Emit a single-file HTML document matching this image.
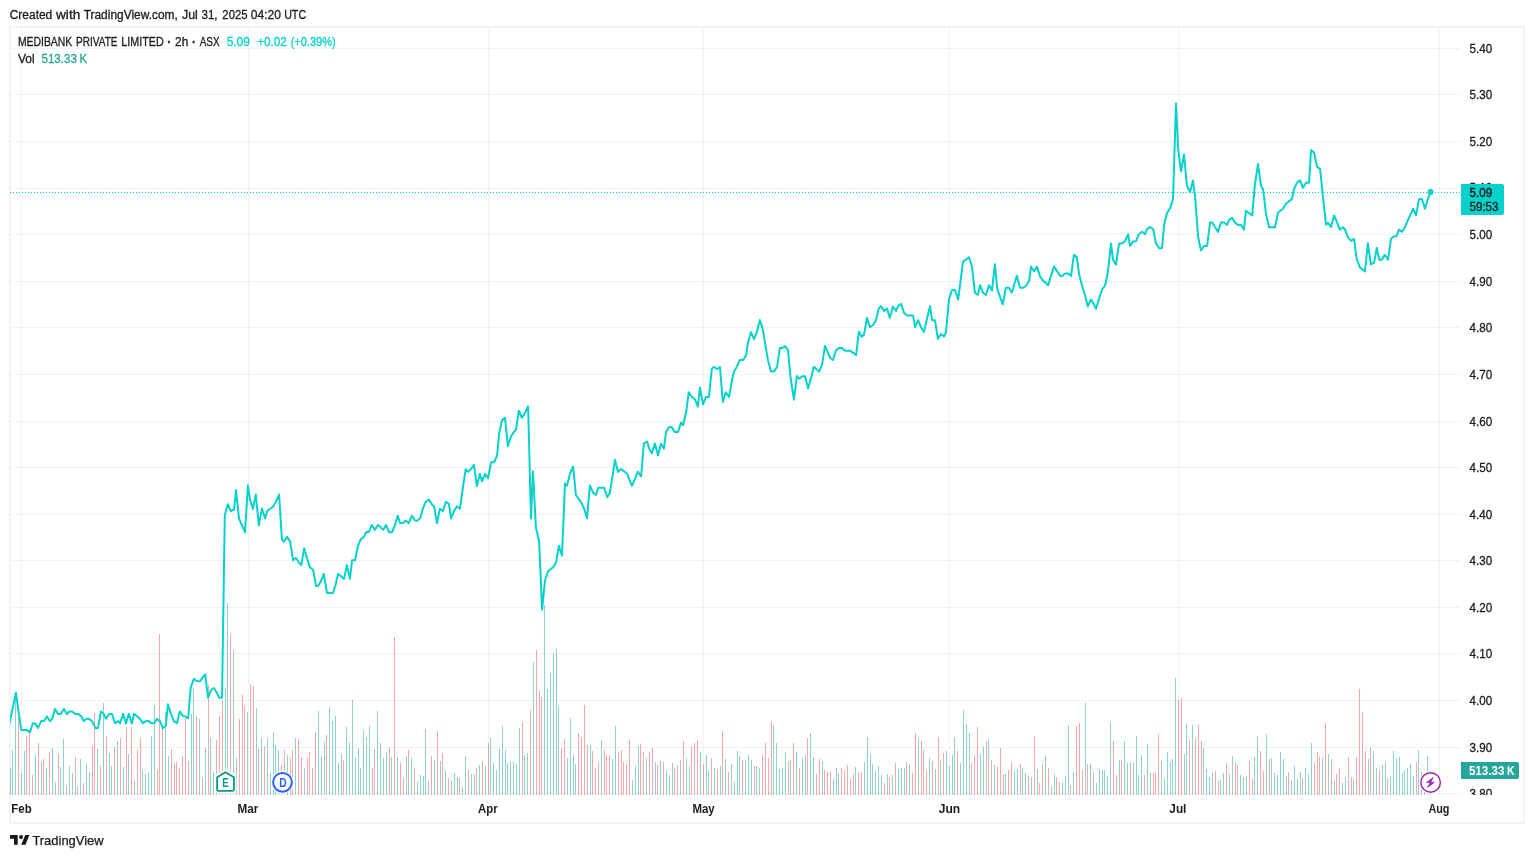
<!DOCTYPE html>
<html lang="en"><head><meta charset="utf-8"><title>MEDIBANK PRIVATE LIMITED</title>
<style>
html,body{margin:0;padding:0;background:#fff;}
body{width:1534px;height:858px;overflow:hidden;}
svg{display:block;font-family:"Liberation Sans", sans-serif;will-change:transform;}
text{font-family:"Liberation Sans", sans-serif;}
</style></head><body>
<svg width="1534" height="858" viewBox="0 0 1534 858">
<rect width="1534" height="858" fill="#fff"/>

<g stroke="#000" stroke-opacity="0.052" stroke-width="1" shape-rendering="crispEdges">
<line x1="11" y1="793.5" x2="1460" y2="793.5"/>
<line x1="11" y1="747.5" x2="1460" y2="747.5"/>
<line x1="11" y1="700.5" x2="1460" y2="700.5"/>
<line x1="11" y1="653.5" x2="1460" y2="653.5"/>
<line x1="11" y1="607.5" x2="1460" y2="607.5"/>
<line x1="11" y1="560.5" x2="1460" y2="560.5"/>
<line x1="11" y1="514.5" x2="1460" y2="514.5"/>
<line x1="11" y1="467.5" x2="1460" y2="467.5"/>
<line x1="11" y1="421.5" x2="1460" y2="421.5"/>
<line x1="11" y1="374.5" x2="1460" y2="374.5"/>
<line x1="11" y1="327.5" x2="1460" y2="327.5"/>
<line x1="11" y1="281.5" x2="1460" y2="281.5"/>
<line x1="11" y1="234.5" x2="1460" y2="234.5"/>
<line x1="11" y1="188.5" x2="1460" y2="188.5"/>
<line x1="11" y1="141.5" x2="1460" y2="141.5"/>
<line x1="11" y1="94.5" x2="1460" y2="94.5"/>
<line x1="11" y1="48.5" x2="1460" y2="48.5"/>
<line x1="21.5" y1="28" x2="21.5" y2="795"/>
<line x1="248.5" y1="28" x2="248.5" y2="795"/>
<line x1="488.5" y1="28" x2="488.5" y2="795"/>
<line x1="703.5" y1="28" x2="703.5" y2="795"/>
<line x1="949.5" y1="28" x2="949.5" y2="795"/>
<line x1="1178.5" y1="28" x2="1178.5" y2="795"/>
<line x1="1439.5" y1="28" x2="1439.5" y2="795"/>
</g>
<rect x="10" y="27" width="1514" height="796" fill="none" stroke="#f3f3f3" stroke-width="2" shape-rendering="crispEdges"/>
<g shape-rendering="crispEdges">
<path fill="#26a69a" fill-opacity="0.5" d="M10 768h1V795h-1zM12 750h1V795h-1zM15 699h1V795h-1zM21 773h1V795h-1zM24 751h1V795h-1zM35 755h1V795h-1zM41 762h1V795h-1zM46 768h1V795h-1zM52 748h1V795h-1zM55 782h1V795h-1zM60 767h1V795h-1zM63 739h1V795h-1zM69 766h1V795h-1zM72 773h1V795h-1zM77 786h1V795h-1zM80 759h1V795h-1zM86 763h1V795h-1zM89 772h1V795h-1zM97 749h1V795h-1zM103 703h1V795h-1zM109 753h1V795h-1zM111 766h1V795h-1zM117 741h1V795h-1zM123 767h1V795h-1zM128 754h1V795h-1zM134 781h1V795h-1zM142 770h1V795h-1zM145 774h1V795h-1zM148 772h1V795h-1zM151 736h1V795h-1zM154 705h1V795h-1zM165 712h1V795h-1zM168 756h1V795h-1zM191 714h1V795h-1zM193 688h1V795h-1zM199 719h1V795h-1zM205 748h1V795h-1zM210 737h1V795h-1zM213 772h1V795h-1zM225 688h1V795h-1zM227 603h1V795h-1zM233 650h1V795h-1zM236 758h1V795h-1zM247 712h1V795h-1zM256 708h1V795h-1zM261 738h1V795h-1zM267 738h1V795h-1zM270 773h1V795h-1zM273 732h1V795h-1zM275 745h1V795h-1zM278 750h1V795h-1zM287 755h1V795h-1zM295 738h1V795h-1zM304 768h1V795h-1zM318 711h1V795h-1zM321 757h1V795h-1zM324 742h1V795h-1zM329 707h1V795h-1zM332 721h1V795h-1zM335 716h1V795h-1zM338 763h1V795h-1zM341 754h1V795h-1zM346 727h1V795h-1zM349 743h1V795h-1zM352 700h1V795h-1zM355 757h1V795h-1zM358 748h1V795h-1zM360 768h1V795h-1zM363 730h1V795h-1zM366 737h1V795h-1zM369 726h1V795h-1zM377 711h1V795h-1zM380 743h1V795h-1zM383 758h1V795h-1zM386 752h1V795h-1zM391 757h1V795h-1zM397 757h1V795h-1zM406 756h1V795h-1zM411 758h1V795h-1zM417 782h1V795h-1zM420 775h1V795h-1zM423 776h1V795h-1zM425 729h1V795h-1zM428 781h1V795h-1zM434 760h1V795h-1zM440 761h1V795h-1zM445 771h1V795h-1zM451 781h1V795h-1zM454 773h1V795h-1zM457 777h1V795h-1zM462 787h1V795h-1zM465 756h1V795h-1zM471 774h1V795h-1zM474 774h1V795h-1zM479 765h1V795h-1zM485 766h1V795h-1zM490 738h1V795h-1zM493 763h1V795h-1zM496 770h1V795h-1zM499 749h1V795h-1zM502 726h1V795h-1zM505 750h1V795h-1zM507 763h1V795h-1zM510 761h1V795h-1zM513 762h1V795h-1zM516 764h1V795h-1zM519 728h1V795h-1zM524 755h1V795h-1zM527 753h1V795h-1zM533 662h1V795h-1zM544 605h1V795h-1zM547 689h1V795h-1zM550 673h1V795h-1zM553 653h1V795h-1zM556 648h1V795h-1zM558 706h1V795h-1zM567 758h1V795h-1zM570 718h1V795h-1zM573 755h1V795h-1zM575 764h1V795h-1zM590 745h1V795h-1zM601 740h1V795h-1zM612 759h1V795h-1zM615 726h1V795h-1zM632 780h1V795h-1zM635 766h1V795h-1zM638 746h1V795h-1zM646 758h1V795h-1zM655 762h1V795h-1zM660 761h1V795h-1zM666 770h1V795h-1zM669 775h1V795h-1zM672 763h1V795h-1zM680 760h1V795h-1zM686 758h1V795h-1zM689 766h1V795h-1zM700 752h1V795h-1zM706 755h1V795h-1zM708 771h1V795h-1zM714 768h1V795h-1zM720 766h1V795h-1zM725 759h1V795h-1zM731 764h1V795h-1zM734 782h1V795h-1zM737 751h1V795h-1zM739 756h1V795h-1zM745 760h1V795h-1zM748 755h1V795h-1zM751 760h1V795h-1zM756 766h1V795h-1zM759 768h1V795h-1zM773 725h1V795h-1zM776 743h1V795h-1zM779 769h1V795h-1zM782 768h1V795h-1zM785 752h1V795h-1zM790 760h1V795h-1zM796 752h1V795h-1zM802 758h1V795h-1zM805 755h1V795h-1zM810 733h1V795h-1zM813 757h1V795h-1zM822 761h1V795h-1zM833 779h1V795h-1zM836 768h1V795h-1zM838 773h1V795h-1zM855 767h1V795h-1zM864 762h1V795h-1zM867 737h1V795h-1zM870 754h1V795h-1zM872 764h1V795h-1zM875 771h1V795h-1zM878 766h1V795h-1zM881 775h1V795h-1zM887 774h1V795h-1zM892 775h1V795h-1zM898 769h1V795h-1zM901 768h1V795h-1zM904 768h1V795h-1zM909 764h1V795h-1zM918 738h1V795h-1zM929 758h1V795h-1zM935 769h1V795h-1zM940 760h1V795h-1zM946 751h1V795h-1zM949 766h1V795h-1zM952 755h1V795h-1zM954 737h1V795h-1zM960 763h1V795h-1zM963 710h1V795h-1zM966 724h1V795h-1zM969 733h1V795h-1zM980 754h1V795h-1zM983 747h1V795h-1zM988 739h1V795h-1zM994 765h1V795h-1zM1005 774h1V795h-1zM1014 771h1V795h-1zM1017 769h1V795h-1zM1022 768h1V795h-1zM1025 773h1V795h-1zM1031 777h1V795h-1zM1037 769h1V795h-1zM1045 756h1V795h-1zM1051 786h1V795h-1zM1054 774h1V795h-1zM1062 783h1V795h-1zM1065 776h1V795h-1zM1068 725h1V795h-1zM1073 772h1V795h-1zM1085 703h1V795h-1zM1090 764h1V795h-1zM1096 783h1V795h-1zM1099 769h1V795h-1zM1102 770h1V795h-1zM1104 770h1V795h-1zM1107 776h1V795h-1zM1110 722h1V795h-1zM1119 760h1V795h-1zM1124 741h1V795h-1zM1127 763h1V795h-1zM1133 763h1V795h-1zM1136 736h1V795h-1zM1138 775h1V795h-1zM1141 755h1V795h-1zM1147 744h1V795h-1zM1150 773h1V795h-1zM1161 761h1V795h-1zM1164 778h1V795h-1zM1167 752h1V795h-1zM1170 762h1V795h-1zM1172 759h1V795h-1zM1175 678h1V795h-1zM1184 754h1V795h-1zM1186 724h1V795h-1zM1192 725h1V795h-1zM1203 748h1V795h-1zM1206 769h1V795h-1zM1209 777h1V795h-1zM1212 772h1V795h-1zM1220 780h1V795h-1zM1223 773h1V795h-1zM1229 774h1V795h-1zM1232 756h1V795h-1zM1240 775h1V795h-1zM1243 777h1V795h-1zM1246 776h1V795h-1zM1254 757h1V795h-1zM1257 736h1V795h-1zM1266 734h1V795h-1zM1271 758h1V795h-1zM1274 773h1V795h-1zM1277 775h1V795h-1zM1280 752h1V795h-1zM1283 759h1V795h-1zM1286 776h1V795h-1zM1291 780h1V795h-1zM1294 766h1V795h-1zM1297 779h1V795h-1zM1300 772h1V795h-1zM1305 768h1V795h-1zM1308 774h1V795h-1zM1311 743h1V795h-1zM1322 758h1V795h-1zM1328 754h1V795h-1zM1334 781h1V795h-1zM1342 783h1V795h-1zM1345 777h1V795h-1zM1353 779h1V795h-1zM1368 759h1V795h-1zM1373 751h1V795h-1zM1376 768h1V795h-1zM1382 765h1V795h-1zM1385 762h1V795h-1zM1390 776h1V795h-1zM1393 751h1V795h-1zM1396 758h1V795h-1zM1399 757h1V795h-1zM1402 773h1V795h-1zM1404 770h1V795h-1zM1407 768h1V795h-1zM1410 764h1V795h-1zM1413 776h1V795h-1zM1418 750h1V795h-1zM1421 772h1V795h-1zM1427 756h1V795h-1zM1430 770h1V795h-1z"/>
<path fill="#ef5350" fill-opacity="0.5" d="M18 718h1V795h-1zM26 736h1V795h-1zM29 733h1V795h-1zM32 775h1V795h-1zM38 743h1V795h-1zM43 759h1V795h-1zM49 752h1V795h-1zM58 754h1V795h-1zM66 786h1V795h-1zM75 757h1V795h-1zM83 783h1V795h-1zM92 746h1V795h-1zM94 713h1V795h-1zM100 766h1V795h-1zM106 736h1V795h-1zM114 747h1V795h-1zM120 738h1V795h-1zM126 727h1V795h-1zM131 727h1V795h-1zM137 750h1V795h-1zM140 738h1V795h-1zM157 770h1V795h-1zM159 634h1V795h-1zM162 727h1V795h-1zM171 749h1V795h-1zM174 763h1V795h-1zM176 762h1V795h-1zM179 768h1V795h-1zM182 756h1V795h-1zM185 718h1V795h-1zM188 761h1V795h-1zM196 716h1V795h-1zM202 778h1V795h-1zM208 685h1V795h-1zM216 740h1V795h-1zM219 716h1V795h-1zM222 700h1V795h-1zM230 634h1V795h-1zM239 719h1V795h-1zM242 695h1V795h-1zM244 706h1V795h-1zM250 684h1V795h-1zM253 686h1V795h-1zM258 749h1V795h-1zM264 746h1V795h-1zM281 765h1V795h-1zM284 750h1V795h-1zM290 758h1V795h-1zM292 750h1V795h-1zM298 739h1V795h-1zM301 757h1V795h-1zM307 758h1V795h-1zM309 752h1V795h-1zM312 768h1V795h-1zM315 732h1V795h-1zM326 735h1V795h-1zM343 760h1V795h-1zM372 768h1V795h-1zM374 749h1V795h-1zM389 747h1V795h-1zM394 637h1V795h-1zM400 763h1V795h-1zM403 778h1V795h-1zM408 750h1V795h-1zM414 768h1V795h-1zM431 756h1V795h-1zM437 731h1V795h-1zM442 753h1V795h-1zM448 778h1V795h-1zM459 778h1V795h-1zM468 770h1V795h-1zM476 768h1V795h-1zM482 761h1V795h-1zM488 743h1V795h-1zM522 722h1V795h-1zM530 710h1V795h-1zM536 650h1V795h-1zM539 691h1V795h-1zM541 697h1V795h-1zM561 748h1V795h-1zM564 739h1V795h-1zM578 733h1V795h-1zM581 738h1V795h-1zM584 705h1V795h-1zM587 745h1V795h-1zM592 751h1V795h-1zM595 768h1V795h-1zM598 762h1V795h-1zM604 750h1V795h-1zM606 755h1V795h-1zM609 755h1V795h-1zM618 752h1V795h-1zM621 750h1V795h-1zM623 762h1V795h-1zM626 764h1V795h-1zM629 740h1V795h-1zM640 744h1V795h-1zM643 752h1V795h-1zM649 752h1V795h-1zM652 748h1V795h-1zM657 765h1V795h-1zM663 762h1V795h-1zM674 768h1V795h-1zM677 765h1V795h-1zM683 741h1V795h-1zM691 746h1V795h-1zM694 743h1V795h-1zM697 740h1V795h-1zM703 764h1V795h-1zM711 758h1V795h-1zM717 769h1V795h-1zM722 731h1V795h-1zM728 772h1V795h-1zM742 760h1V795h-1zM754 766h1V795h-1zM762 755h1V795h-1zM765 743h1V795h-1zM768 758h1V795h-1zM771 721h1V795h-1zM788 761h1V795h-1zM793 743h1V795h-1zM799 768h1V795h-1zM807 738h1V795h-1zM816 774h1V795h-1zM819 759h1V795h-1zM824 770h1V795h-1zM827 772h1V795h-1zM830 772h1V795h-1zM841 768h1V795h-1zM844 770h1V795h-1zM847 765h1V795h-1zM850 779h1V795h-1zM853 774h1V795h-1zM858 772h1V795h-1zM861 772h1V795h-1zM884 783h1V795h-1zM889 777h1V795h-1zM895 763h1V795h-1zM906 762h1V795h-1zM912 773h1V795h-1zM915 733h1V795h-1zM921 741h1V795h-1zM923 750h1V795h-1zM926 770h1V795h-1zM932 761h1V795h-1zM938 737h1V795h-1zM943 753h1V795h-1zM957 751h1V795h-1zM971 763h1V795h-1zM974 755h1V795h-1zM977 727h1V795h-1zM986 741h1V795h-1zM991 760h1V795h-1zM997 767h1V795h-1zM1000 748h1V795h-1zM1003 774h1V795h-1zM1008 770h1V795h-1zM1011 762h1V795h-1zM1020 764h1V795h-1zM1028 776h1V795h-1zM1034 736h1V795h-1zM1039 783h1V795h-1zM1042 764h1V795h-1zM1048 768h1V795h-1zM1056 777h1V795h-1zM1059 782h1V795h-1zM1070 785h1V795h-1zM1076 726h1V795h-1zM1079 723h1V795h-1zM1082 770h1V795h-1zM1087 764h1V795h-1zM1093 772h1V795h-1zM1113 741h1V795h-1zM1116 775h1V795h-1zM1121 760h1V795h-1zM1130 762h1V795h-1zM1144 775h1V795h-1zM1153 773h1V795h-1zM1155 772h1V795h-1zM1158 734h1V795h-1zM1178 700h1V795h-1zM1181 698h1V795h-1zM1189 740h1V795h-1zM1195 738h1V795h-1zM1198 724h1V795h-1zM1201 741h1V795h-1zM1215 771h1V795h-1zM1218 781h1V795h-1zM1226 763h1V795h-1zM1235 762h1V795h-1zM1237 765h1V795h-1zM1249 761h1V795h-1zM1252 779h1V795h-1zM1260 751h1V795h-1zM1263 771h1V795h-1zM1269 759h1V795h-1zM1288 772h1V795h-1zM1302 778h1V795h-1zM1314 763h1V795h-1zM1317 752h1V795h-1zM1319 757h1V795h-1zM1325 723h1V795h-1zM1331 759h1V795h-1zM1336 774h1V795h-1zM1339 768h1V795h-1zM1348 757h1V795h-1zM1351 777h1V795h-1zM1356 757h1V795h-1zM1359 689h1V795h-1zM1362 712h1V795h-1zM1365 751h1V795h-1zM1370 747h1V795h-1zM1379 770h1V795h-1zM1387 778h1V795h-1zM1416 762h1V795h-1zM1424 775h1V795h-1z"/>
</g>
<line x1="10" y1="192.5" x2="1461" y2="192.5" stroke="#06d2cb" stroke-width="1" stroke-dasharray="1 2" shape-rendering="crispEdges"/>
<clipPath id="pane"><rect x="10" y="28" width="1450" height="767"/></clipPath>
<path clip-path="url(#pane)" d="M8.4 728.2 L10.0 720.6 L15.9 692.8 L21.2 729.9 L26.8 729.9 L29.9 732.3 L32.8 723.2 L35.0 723.4 L38.0 727.9 L41.2 721.1 L44.0 721.1 L46.8 716.4 L50.1 721.1 L52.4 718.3 L55.0 709.0 L58.0 713.9 L60.8 713.9 L63.9 709.0 L66.9 714.1 L69.2 711.5 L72.0 711.5 L75.3 713.9 L78.1 713.9 L81.3 716.4 L83.9 721.1 L86.5 718.7 L88.8 718.7 L92.0 721.1 L95.3 727.9 L98.1 727.9 L100.9 711.5 L103.7 713.9 L106.0 718.7 L109.3 713.9 L112.1 713.9 L114.9 723.2 L118.2 721.1 L120.0 723.4 L123.1 713.9 L125.9 723.4 L128.9 713.9 L131.8 723.4 L134.0 713.9 L137.1 716.2 L139.9 718.7 L142.9 723.2 L146.0 721.1 L149.1 721.1 L151.1 723.2 L154.1 723.2 L157.0 718.7 L160.0 721.1 L162.8 728.1 L165.8 726.0 L167.9 704.3 L171.0 714.1 L173.9 721.1 L176.9 723.2 L179.8 711.5 L182.8 715.9 L185.1 716.2 L188.1 718.5 L190.7 687.5 L193.8 678.9 L196.8 681.0 L199.9 681.3 L202.6 677.7 L205.2 674.3 L208.0 697.6 L210.8 690.3 L213.9 688.0 L216.7 692.6 L219.2 697.8 L222.0 697.8 L224.8 515.1 L227.8 504.2 L230.8 511.2 L234.1 509.3 L236.0 489.9 L239.0 518.4 L242.0 525.4 L245.0 532.3 L247.9 485.3 L250.0 499.5 L252.9 509.0 L255.8 494.6 L258.8 525.4 L261.9 508.6 L265.1 518.4 L267.2 510.9 L270.0 509.0 L273.0 506.7 L275.8 502.0 L279.1 494.6 L281.9 539.3 L283.9 541.8 L287.0 536.9 L290.1 541.3 L293.1 560.2 L296.0 557.8 L299.1 562.8 L301.3 565.1 L304.1 548.3 L307.0 558.1 L309.8 567.4 L313.1 569.8 L316.1 586.1 L318.0 586.1 L320.8 581.4 L323.8 574.0 L326.9 592.9 L329.9 592.9 L333.1 592.9 L335.9 583.7 L338.0 574.0 L341.1 576.3 L344.1 578.9 L346.9 564.9 L349.9 578.9 L352.1 560.2 L355.1 560.2 L357.9 546.0 L360.9 539.0 L363.9 536.9 L366.2 532.0 L368.9 532.0 L371.7 525.0 L374.8 529.9 L377.9 525.0 L380.4 527.1 L383.2 529.9 L386.0 525.0 L389.1 532.3 L392.0 532.3 L395.0 525.0 L397.8 515.8 L400.0 522.9 L402.8 522.9 L405.8 520.6 L408.8 523.2 L411.9 515.8 L415.1 520.6 L416.8 521.1 L420.2 518.3 L422.8 508.9 L425.6 502.0 L428.9 499.6 L431.9 504.3 L434.2 506.6 L437.0 523.2 L439.9 508.8 L442.9 511.1 L445.9 501.7 L448.9 503.8 L451.0 518.3 L454.0 511.1 L456.8 506.4 L459.9 508.8 L462.9 487.5 L465.7 469.3 L468.0 471.7 L470.8 469.3 L473.9 464.7 L476.9 486.1 L479.9 473.7 L482.0 481.3 L485.0 473.9 L488.1 478.3 L491.0 462.3 L494.1 462.3 L497.1 455.5 L499.1 433.6 L502.0 420.1 L505.0 417.9 L507.9 446.1 L510.9 436.8 L513.7 432.2 L516.0 429.8 L518.8 410.7 L521.9 417.9 L524.9 413.1 L528.1 406.3 L531.0 518.5 L533.0 471.4 L535.9 527.6 L539.1 541.3 L542.1 609.6 L545.0 580.5 L548.0 571.5 L550.8 569.0 L553.1 567.2 L556.1 562.5 L558.9 545.7 L562.0 555.7 L565.0 483.3 L567.1 485.6 L569.9 474.0 L573.1 466.5 L575.9 495.2 L579.2 499.6 L582.0 503.8 L584.3 509.4 L587.0 518.3 L589.9 485.4 L593.0 492.6 L596.0 495.0 L598.3 487.8 L601.1 487.8 L604.2 487.8 L607.2 497.3 L609.9 492.9 L612.5 476.1 L615.0 459.8 L618.0 471.9 L621.0 469.1 L624.1 471.4 L627.1 473.7 L629.4 479.8 L632.0 485.9 L635.0 478.9 L637.8 471.7 L641.1 476.5 L643.9 443.4 L647.1 441.6 L649.3 449.0 L651.9 453.2 L654.9 443.4 L658.0 455.6 L660.9 443.7 L663.9 448.6 L666.1 431.8 L669.1 427.1 L671.7 427.1 L674.9 432.1 L678.0 432.1 L681.0 422.6 L683.1 425.3 L686.2 411.8 L688.8 392.2 L691.8 396.7 L694.9 399.2 L697.8 406.7 L700.0 387.6 L703.0 404.3 L706.0 396.9 L709.0 396.9 L711.8 368.9 L713.9 366.8 L717.0 369.1 L720.0 367.0 L722.8 402.0 L725.8 392.4 L729.1 397.1 L731.9 381.0 L733.9 371.5 L736.8 367.0 L739.8 359.9 L743.1 360.0 L746.1 355.4 L747.9 343.0 L751.0 332.1 L754.0 339.1 L756.8 332.2 L759.9 320.1 L762.8 329.4 L765.2 343.9 L768.0 360.2 L771.0 371.4 L774.0 371.4 L777.0 367.2 L779.9 348.1 L782.1 348.1 L785.0 346.1 L788.0 350.2 L790.4 376.5 L793.9 399.7 L796.9 376.1 L799.2 378.7 L802.2 376.3 L805.0 376.3 L808.1 388.2 L810.9 378.4 L813.9 366.8 L816.5 369.1 L819.1 371.7 L822.0 364.9 L825.0 345.8 L827.6 351.8 L830.0 357.7 L833.0 360.0 L836.0 350.4 L839.0 348.1 L841.9 348.1 L844.9 350.7 L847.7 350.7 L850.0 350.7 L853.1 352.8 L856.1 355.1 L858.9 331.7 L861.8 336.8 L864.0 334.5 L867.0 317.9 L869.9 327.2 L872.8 325.2 L875.9 320.5 L878.9 308.1 L881.0 306.1 L884.0 310.9 L887.0 308.6 L889.9 317.9 L892.9 306.5 L896.0 310.9 L898.2 305.8 L901.1 303.9 L904.1 313.0 L907.1 315.6 L910.1 315.6 L913.1 315.6 L915.1 327.2 L918.1 320.2 L920.9 327.0 L923.9 331.9 L926.9 319.3 L930.0 306.2 L932.0 320.2 L935.0 320.2 L937.9 338.9 L940.9 334.0 L944.0 336.5 L946.0 332.3 L949.0 298.8 L952.1 289.9 L954.9 289.9 L958.1 299.5 L960.6 281.0 L962.9 261.9 L966.0 259.6 L969.0 257.2 L972.0 266.6 L974.9 292.7 L977.8 295.0 L980.0 285.2 L983.0 292.7 L986.0 295.0 L989.0 285.2 L992.0 290.4 L994.9 264.2 L997.1 288.0 L1000.0 296.9 L1002.8 304.3 L1005.8 287.7 L1008.9 287.7 L1011.9 292.7 L1014.2 284.8 L1016.8 275.7 L1020.0 287.7 L1023.1 287.7 L1026.0 285.7 L1029.1 281.0 L1031.0 266.6 L1034.1 271.2 L1037.0 266.6 L1040.0 276.4 L1042.9 280.6 L1045.9 282.9 L1048.0 285.5 L1051.0 275.9 L1054.0 266.6 L1057.1 271.2 L1060.2 275.9 L1062.2 275.9 L1065.0 273.6 L1068.1 273.6 L1071.1 275.9 L1073.9 254.9 L1076.9 257.2 L1079.0 273.8 L1082.0 285.5 L1084.9 294.8 L1087.8 306.5 L1090.9 299.5 L1093.9 304.1 L1096.0 308.8 L1099.0 299.0 L1102.0 289.7 L1105.1 285.5 L1107.9 272.0 L1111.0 243.5 L1113.0 259.8 L1116.0 264.5 L1119.1 243.5 L1121.9 243.5 L1124.9 241.4 L1128.1 234.2 L1130.0 245.8 L1133.1 241.4 L1136.0 241.2 L1138.9 234.2 L1141.9 231.7 L1145.0 234.2 L1146.9 229.4 L1149.9 227.0 L1153.2 229.3 L1156.0 243.5 L1159.1 248.2 L1162.0 248.2 L1164.2 224.4 L1167.0 213.0 L1170.2 208.1 L1173.0 199.4 L1176.0 103.2 L1178.1 148.2 L1181.0 171.5 L1184.0 154.5 L1186.9 185.3 L1190.0 192.2 L1193.0 180.6 L1195.1 196.9 L1198.1 237.0 L1201.0 250.5 L1204.0 245.9 L1207.1 245.9 L1210.1 222.4 L1212.2 222.4 L1215.0 227.0 L1218.0 231.9 L1221.0 222.4 L1224.0 222.4 L1227.0 224.9 L1229.2 219.9 L1232.0 217.9 L1235.0 222.6 L1238.0 224.9 L1241.1 224.9 L1243.9 229.6 L1245.9 210.7 L1249.0 213.1 L1252.2 215.4 L1254.8 185.1 L1258.0 164.1 L1261.0 185.6 L1263.2 189.8 L1266.0 214.0 L1269.0 227.2 L1272.0 227.2 L1275.0 227.2 L1278.1 212.6 L1280.4 210.7 L1283.0 208.7 L1286.0 203.7 L1288.8 201.4 L1291.9 199.1 L1294.0 189.3 L1296.9 182.8 L1300.0 180.4 L1303.0 187.7 L1306.1 182.8 L1309.1 182.8 L1311.0 150.1 L1314.0 152.5 L1317.1 166.9 L1320.1 169.1 L1323.0 196.8 L1326.0 224.7 L1328.0 222.8 L1331.0 227.2 L1334.1 215.4 L1337.0 222.4 L1339.8 229.7 L1342.9 227.2 L1345.2 229.8 L1347.8 236.8 L1351.0 241.0 L1354.0 238.7 L1356.5 257.9 L1359.7 267.1 L1362.3 269.4 L1364.9 271.5 L1367.9 243.2 L1370.9 264.5 L1374.1 262.4 L1376.8 247.9 L1379.1 259.8 L1381.7 259.8 L1384.9 254.8 L1388.0 259.8 L1391.0 238.7 L1393.8 236.4 L1396.4 236.2 L1399.0 229.6 L1402.0 232.0 L1405.0 227.0 L1407.9 220.1 L1410.6 214.4 L1413.2 208.6 L1416.1 215.4 L1419.0 198.9 L1421.9 198.9 L1424.9 208.6 L1427.9 199.2 L1430.5 192.3" fill="none" stroke="#06d2cb" stroke-width="2" stroke-linejoin="round" stroke-linecap="round"/>
<circle cx="1430.6" cy="192.0" r="3" fill="#06d2cb"/>
<g>
<path d="M225.5 771.0 L234.6 776.4 V789.6 Q234.6 791.6 232.6 791.6 H218.4 Q216.4 791.6 216.4 789.6 V776.4 Z" fill="#fff" stroke="#fff" stroke-width="3.6" stroke-linejoin="round"/>
<path d="M225.5 772.3 L233.9 777.2 V789.4 Q233.9 790.9 232.4 790.9 H218.6 Q217.1 790.9 217.1 789.4 V777.2 Z" fill="#fff" stroke="#089981" stroke-width="1.8" stroke-linejoin="round"/>
<text x="222.3" y="786.8" font-size="12.4" font-weight="700" fill="#089981" textLength="6.4" lengthAdjust="spacingAndGlyphs">E</text>
<circle cx="282.5" cy="782.3" r="11.4" fill="#fff"/>
<circle cx="282.5" cy="782.3" r="9.4" fill="#fff" stroke="#2962ff" stroke-width="2"/>
<text x="279.2" y="786.8" font-size="12.4" font-weight="700" fill="#2962ff" textLength="7.4" lengthAdjust="spacingAndGlyphs">D</text>
<circle cx="1430.6" cy="782.4" r="11.4" fill="#fff"/>
<circle cx="1430.6" cy="782.4" r="9.75" fill="#fff" stroke="#9c27b0" stroke-width="1.5"/>
<path d="M1433.3 777.5 L1426.6 782.5 L1430.3 782.6 L1427.5 787.4 L1434.4 782.3 L1430.7 782.2 Z" fill="#9c27b0" stroke="#9c27b0" stroke-width="0.8" stroke-linejoin="round"/>
</g>
<clipPath id="axis"><rect x="1461" y="28" width="62" height="767"/></clipPath>
<g clip-path="url(#axis)" font-size="12" fill="#1c1c1e" stroke="#1c1c1e" stroke-width="0.3">
<text x="1469.5" y="797.8" textLength="22.6" lengthAdjust="spacingAndGlyphs">3.80</text>
<text x="1469.5" y="751.8" textLength="22.6" lengthAdjust="spacingAndGlyphs">3.90</text>
<text x="1469.5" y="704.8" textLength="22.6" lengthAdjust="spacingAndGlyphs">4.00</text>
<text x="1469.5" y="657.8" textLength="22.6" lengthAdjust="spacingAndGlyphs">4.10</text>
<text x="1469.5" y="611.8" textLength="22.6" lengthAdjust="spacingAndGlyphs">4.20</text>
<text x="1469.5" y="564.8" textLength="22.6" lengthAdjust="spacingAndGlyphs">4.30</text>
<text x="1469.5" y="518.8" textLength="22.6" lengthAdjust="spacingAndGlyphs">4.40</text>
<text x="1469.5" y="471.8" textLength="22.6" lengthAdjust="spacingAndGlyphs">4.50</text>
<text x="1469.5" y="425.8" textLength="22.6" lengthAdjust="spacingAndGlyphs">4.60</text>
<text x="1469.5" y="378.8" textLength="22.6" lengthAdjust="spacingAndGlyphs">4.70</text>
<text x="1469.5" y="331.8" textLength="22.6" lengthAdjust="spacingAndGlyphs">4.80</text>
<text x="1469.5" y="285.8" textLength="22.6" lengthAdjust="spacingAndGlyphs">4.90</text>
<text x="1469.5" y="238.8" textLength="22.6" lengthAdjust="spacingAndGlyphs">5.00</text>
<text x="1469.5" y="191.5" textLength="22.6" lengthAdjust="spacingAndGlyphs">5.10</text>
<text x="1469.5" y="145.8" textLength="22.6" lengthAdjust="spacingAndGlyphs">5.20</text>
<text x="1469.5" y="98.8" textLength="22.6" lengthAdjust="spacingAndGlyphs">5.30</text>
<text x="1469.5" y="52.8" textLength="22.6" lengthAdjust="spacingAndGlyphs">5.40</text>
</g>
<path d="M1461 184 H1502 Q1504 184 1504 186 V213 Q1504 215 1502 215 H1461 Z" fill="#06d2cb"/>
<text x="1469.5" y="197" font-size="12" fill="#1c1c1e" stroke="#1c1c1e" stroke-width="0.4" textLength="22.6" lengthAdjust="spacingAndGlyphs">5.09</text>
<text x="1469.5" y="211" font-size="12" fill="#1c1c1e" stroke="#1c1c1e" stroke-width="0.3" textLength="29.0" lengthAdjust="spacingAndGlyphs">59:53</text>
<path d="M1461 762 H1517 Q1519 762 1519 764 V777 Q1519 779 1517 779 H1461 Z" fill="#26a69a"/>
<text y="774.8" font-size="12" font-weight="700" fill="#fff" xml:space="preserve"><tspan x="1468.9" textLength="35.6" lengthAdjust="spacingAndGlyphs">513.33</tspan> <tspan x="1507.0" textLength="7.6" lengthAdjust="spacingAndGlyphs">K</tspan></text>
<g font-size="12" font-weight="700" fill="#1c1c1e">
<text x="11.3" y="812.8" textLength="20.4" lengthAdjust="spacingAndGlyphs">Feb</text>
<text x="237.6" y="812.8" textLength="20.8" lengthAdjust="spacingAndGlyphs">Mar</text>
<text x="478.0" y="812.8" textLength="19.6" lengthAdjust="spacingAndGlyphs">Apr</text>
<text x="692.4" y="812.8" textLength="22.2" lengthAdjust="spacingAndGlyphs">May</text>
<text x="938.8" y="812.8" textLength="21.4" lengthAdjust="spacingAndGlyphs">Jun</text>
<text x="1169.3" y="812.8" textLength="17.1" lengthAdjust="spacingAndGlyphs">Jul</text>
<text x="1428.4" y="812.8" textLength="21.1" lengthAdjust="spacingAndGlyphs">Aug</text>
</g>
<text y="19" font-size="12" fill="#1c1c1e" stroke="#1c1c1e" stroke-width="0.3" xml:space="preserve"><tspan x="9.75" textLength="42.5" lengthAdjust="spacingAndGlyphs">Created</tspan> <tspan x="56.05" textLength="24.2" lengthAdjust="spacingAndGlyphs">with</tspan> <tspan x="83.65" textLength="94.2" lengthAdjust="spacingAndGlyphs">TradingView.com,</tspan> <tspan x="182.05" textLength="15.8" lengthAdjust="spacingAndGlyphs">Jul</tspan> <tspan x="201.45" textLength="16.1" lengthAdjust="spacingAndGlyphs">31,</tspan> <tspan x="222.35" textLength="25.2" lengthAdjust="spacingAndGlyphs">2025</tspan> <tspan x="250.75" textLength="30.2" lengthAdjust="spacingAndGlyphs">04:20</tspan> <tspan x="284.15" textLength="22.0" lengthAdjust="spacingAndGlyphs">UTC</tspan></text>
<text y="45.8" font-size="12" fill="#1c1c1e" stroke="#1c1c1e" stroke-width="0.3" xml:space="preserve"><tspan x="17.95" textLength="54.3" lengthAdjust="spacingAndGlyphs">MEDIBANK</tspan> <tspan x="76.05" textLength="41.4" lengthAdjust="spacingAndGlyphs">PRIVATE</tspan> <tspan x="121.25" textLength="42.5" lengthAdjust="spacingAndGlyphs">LIMITED</tspan> <tspan x="167.55" textLength="3.3" lengthAdjust="spacingAndGlyphs" font-weight="700" stroke-width="0.6">·</tspan> <tspan x="175.05" textLength="13.2" lengthAdjust="spacingAndGlyphs">2h</tspan> <tspan x="192.35" textLength="3.1" lengthAdjust="spacingAndGlyphs" font-weight="700" stroke-width="0.6">·</tspan> <tspan x="199.65" textLength="19.9" lengthAdjust="spacingAndGlyphs">ASX</tspan> <tspan x="226.65" textLength="23.2" lengthAdjust="spacingAndGlyphs" fill="#06d2cb" stroke="#06d2cb">5.09</tspan> <tspan x="257.15" textLength="29.7" lengthAdjust="spacingAndGlyphs" fill="#06d2cb" stroke="#06d2cb">+0.02</tspan> <tspan x="290.65" textLength="45.0" lengthAdjust="spacingAndGlyphs" fill="#06d2cb" stroke="#06d2cb">(+0.39%)</tspan></text>
<text y="62.8" font-size="12" fill="#1c1c1e" stroke="#1c1c1e" stroke-width="0.3" xml:space="preserve"><tspan x="17.95" textLength="16.7" lengthAdjust="spacingAndGlyphs">Vol</tspan> <tspan x="41.45" textLength="35.5" lengthAdjust="spacingAndGlyphs" fill="#26a69a" stroke="#26a69a">513.33</tspan> <tspan x="79.55" textLength="7.7" lengthAdjust="spacingAndGlyphs" fill="#26a69a" stroke="#26a69a">K</tspan></text>
<g fill="#16181f">
<path d="M10 835 H17.7 V844.8 H14 V838.75 H10 Z"/>
<circle cx="21.05" cy="837.05" r="1.95"/>
<path d="M25.3 835 H29.4 L25.5 844.8 H21.2 Z"/>
<text x="32.4" y="844.8" font-size="13" textLength="71.2" lengthAdjust="spacingAndGlyphs" stroke="#16181f" stroke-width="0.25">TradingView</text>
</g>
</svg></body></html>
